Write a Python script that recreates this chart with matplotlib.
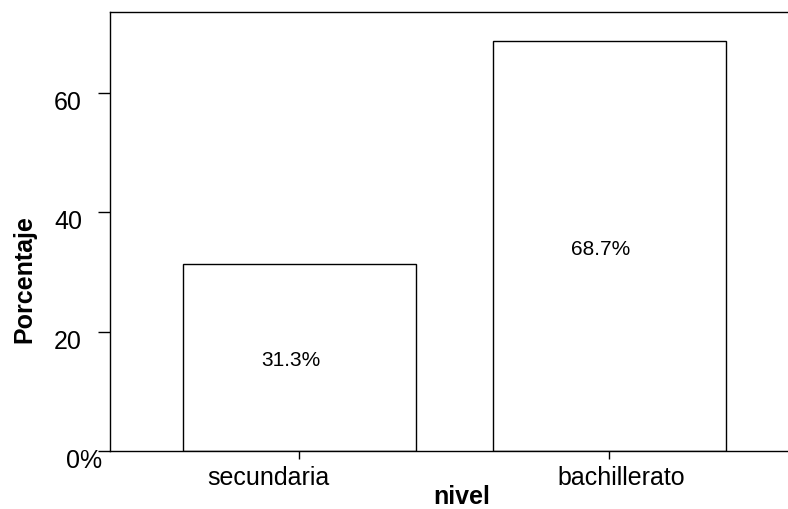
import matplotlib
matplotlib.use("Agg")
import matplotlib.pyplot as plt
from matplotlib.transforms import ScaledTranslation

# data
categories = ["secundaria", "bachillerato"]
percent = [31.3, 68.7]
yticks = [0, 20, 40, 60]
ytick_labels = ["0%", "20", "40", "60"]

plt.rcParams['font.family'] = ['Liberation Sans', 'DejaVu Sans']

fig = plt.figure(figsize=(7.88, 5.10), dpi=100)
ax = fig.add_axes([110 / 788, 1 - 452 / 510, 678 / 788, 439 / 510])


def shift(artist, dx_px, dy_px):
    # nudge a text by a few pixels (the original SPSS layout is a bit off-centre)
    artist.set_transform(artist.get_transform() +
                         ScaledTranslation(dx_px / 100, dy_px / 100, fig.dpi_scale_trans))


x = list(range(len(categories)))
ax.bar(x, percent, width=0.75, color='white', edgecolor='black', linewidth=1.0)
for xi, v in zip(x, percent):
    ax.annotate(f"{v:.1f}%", (xi, v / 2), xytext=(-6, -1.5), textcoords='offset points',
                ha='center', va='center', fontsize=15)

ax.set_xlim(-0.611, 1.576)
ax.set_ylim(0, 73.6)
ax.set_xticks(x)
ax.set_xticklabels(categories, fontsize=18)
ax.set_yticks(yticks)
ax.set_yticklabels(ytick_labels, fontsize=18)
ax.tick_params(axis='y', direction='out', length=8.6, width=1, pad=-2.9)
ax.tick_params(axis='x', direction='out', length=5.8, width=1, pad=4.5)

# x labels sit off their ticks in the reference
for lab, dx in zip(ax.get_xticklabels(), [-31, 11.5]):
    shift(lab, dx, 0)
# y labels are right-aligned as if each had a "%"
for lab, txt in zip(ax.get_yticklabels(), ytick_labels):
    shift(lab, 0 if txt.endswith('%') else -20, -6.5)

ax.spines['right'].set_visible(False)
for s in ['left', 'top', 'bottom']:
    ax.spines[s].set_linewidth(1.0)

ax.set_xlabel("nivel", fontsize=18, fontweight='bold')
ax.xaxis.set_label_coords(0.518, -0.076)
ax.set_ylabel("Porcentaje", fontsize=18, fontweight='bold')
ax.yaxis.set_label_coords(-0.109, 0.395)

fig.savefig("out.png", dpi=100)
